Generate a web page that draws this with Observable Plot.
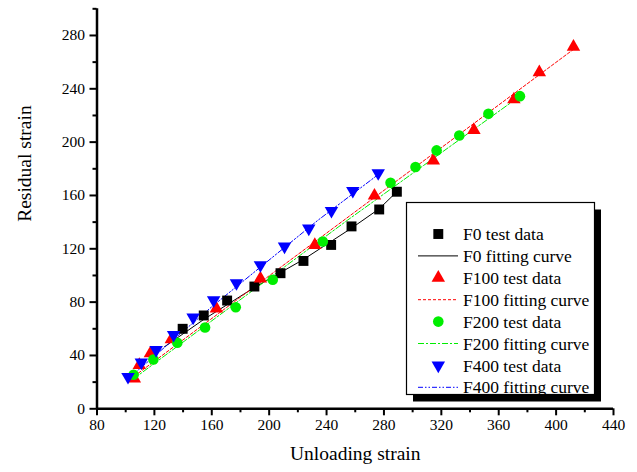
<!DOCTYPE html>
<html>
<head>
<meta charset="utf-8">
<script src="https://cdn.jsdelivr.net/npm/d3@7"></script>
<script src="https://cdn.jsdelivr.net/npm/@observablehq/plot@0.6"></script>
<style>
  html, body { margin: 0; padding: 0; background: #fff; }
  #chart { width: 637px; height: 472px; }
</style>
</head>
<body>
<div id="chart"></div>
<script>
// ---- Test data ----
const f0X = [139.7, 154.4, 170.7, 189.7, 207.9, 223.9, 243.2, 257.4, 276.7, 289.0];
const f0Y = [60.0, 70.0, 81.2, 91.7, 101.7, 110.9, 122.9, 136.8, 149.5, 162.8];

const f100X = [106.0, 109.5, 117.2, 131.8, 163.2, 193.9, 231.8, 273.4, 314.4, 342.7, 370.6, 388.3, 412.1];
const f100Y = [22.7, 32.8, 41.5, 52.1, 75.2, 97.7, 122.8, 159.8, 186.2, 209.0, 232.0, 252.3, 271.5];

const f200X = [105.5, 119.3, 136.0, 155.3, 176.7, 202.5, 237.4, 284.6, 302.0, 316.7, 332.5, 352.8, 374.8];
const f200Y = [25.5, 37.0, 49.5, 61.0, 76.2, 96.8, 125.5, 169.5, 181.3, 193.8, 205.0, 221.3, 234.5];

const f400X = [101.6, 110.9, 121.2, 133.4, 147.0, 161.3, 177.2, 193.9, 210.7, 227.6, 243.4, 258.3, 276.0];
const f400Y = [24.0, 34.8, 44.2, 55.5, 68.5, 81.5, 94.3, 107.8, 121.8, 135.3, 148.5, 163.5, 176.8];

// ---- Fitting curves ----
const fit0X = [127.0, 154.4, 189.7, 223.9, 257.4, 276.7, 289.0];
const fit0Y = [46.5, 67.0, 91.0, 112.0, 135.5, 150.0, 162.8];
const fit100X = [106.0, 412.0];
const fit100Y = [24.5, 269.5];
const fit200X = [105.5, 254.4, 374.8];
const fit200Y = [22.5, 141.3, 234.5];
const fit400X = [101.6, 160.0, 233.5, 277.0];
const fit400Y = [22.5, 76.5, 141.0, 176.5];

// ---- Axes ----
const xTicks = [80, 120, 160, 200, 240, 280, 320, 360, 400, 440];
const xMinor = [100, 140, 180, 220, 260, 300, 340, 380, 420];
const yTicks = [0, 40, 80, 120, 160, 200, 240, 280];
const yMinor = [20, 60, 100, 140, 180, 220, 260, 300];
const xTitle = "Unloading strain";
const yTitle = "Residual strain";

const legendLabels = [
  "F0 test data", "F0 fitting curve",
  "F100 test data", "F100 fitting curve",
  "F200 test data", "F200 fitting curve",
  "F400 test data", "F400 fitting curve"
];

const RED = "#ff0000", GREEN = "#00ee00", BLUE = "#0000ff", BLACK = "#000000";
const pts = (xs, ys) => xs.map((x, i) => ({x, y: ys[i]}));

const serif = "'Liberation Serif', 'Times New Roman', serif";
const R_SQ = 5.6, R_TRI = 5.0, R_CIR = 5.3;

const plot = Plot.plot({
  width: 637,
  height: 472,
  marginLeft: 96.5,
  marginRight: 24,
  marginTop: 8.3,
  marginBottom: 63.7,
  style: {fontFamily: serif, fontSize: "15.5px", background: "white", color: "black"},
  x: {domain: [80, 440]},
  y: {domain: [0, 300]},
  marks: [
    Plot.axisX({ticks: xTicks, tickSize: 7, tickPadding: 3, strokeWidth: 2, label: null, fontSize: 15.5}),
    Plot.axisX({ticks: xMinor, tickSize: 4, strokeWidth: 2, tickFormat: () => "", label: null}),
    Plot.axisY({ticks: yTicks, tickSize: 7, tickPadding: 5, strokeWidth: 2, label: null, fontSize: 15.5}),
    Plot.axisY({ticks: yMinor, tickSize: 4, strokeWidth: 2, tickFormat: () => "", label: null}),
    Plot.ruleX([80], {y1: 0, y2: 300, strokeWidth: 2.5}),
    Plot.ruleY([0], {x1: 80, x2: 440, strokeWidth: 2.5}),
    Plot.text([xTitle], {frameAnchor: "bottom", dy: 51, fontSize: 19.5, fontFamily: serif}),
    Plot.text([yTitle], {frameAnchor: "left", dx: -72, dy: 13, rotate: -90, fontSize: 19.5, fontFamily: serif}),

    Plot.line(pts(fit0X, fit0Y), {x: "x", y: "y", stroke: BLACK, strokeWidth: 1}),
    Plot.line(pts(fit100X, fit100Y), {x: "x", y: "y", stroke: RED, strokeWidth: 1, strokeDasharray: "3,2"}),
    Plot.line(pts(fit200X, fit200Y), {x: "x", y: "y", stroke: GREEN, strokeWidth: 1, strokeDasharray: "6,2,2,2"}),
    Plot.line(pts(fit400X, fit400Y), {x: "x", y: "y", stroke: BLUE, strokeWidth: 1, strokeDasharray: "5,2,1.5,2,1.5,2"}),

    Plot.dot(pts(f0X, f0Y), {x: "x", y: "y", symbol: "square", r: R_SQ, fill: BLACK, stroke: "none"}),
    Plot.dot(pts(f100X, f100Y), {x: "x", y: "y", symbol: "triangle", r: R_TRI, fill: RED, stroke: "none"}),
    Plot.dot(pts(f200X, f200Y), {x: "x", y: "y", symbol: "circle", r: R_CIR, fill: GREEN, stroke: "none"}),
    Plot.dot(pts(f400X, f400Y), {x: "x", y: "y", symbol: "triangle", rotate: 180, r: R_TRI, fill: BLUE, stroke: "none"})
  ]
});

document.getElementById("chart").appendChild(plot);

// ---- Legend box drawn into the same SVG ----
const svg = d3.select(plot);
const lg = svg.append("g").attr("font-family", serif).attr("font-size", 17.5)
  .attr("text-anchor", "start").style("text-anchor", "start");
const bx = 406.5, by = 202.5, bw = 188, bh = 192;
lg.append("rect").attr("x", bx + 6.5).attr("y", by + 7).attr("width", bw).attr("height", bh).attr("fill", "black");
lg.append("rect").attr("x", bx).attr("y", by).attr("width", bw).attr("height", bh)
  .attr("fill", "white").attr("stroke", "black").attr("stroke-width", 1.2);

const legendStyles = [
  {kind: "sym", sym: d3.symbolSquare, size: Math.PI * R_SQ * R_SQ, color: BLACK, rot: 0},
  {kind: "line", color: BLACK, dash: null},
  {kind: "sym", sym: d3.symbolTriangle, size: Math.PI * R_TRI * R_TRI, color: RED, rot: 0},
  {kind: "line", color: RED, dash: "3,2"},
  {kind: "sym", sym: d3.symbolCircle, size: Math.PI * R_CIR * R_CIR, color: GREEN, rot: 0},
  {kind: "line", color: GREEN, dash: "6,2,2,2"},
  {kind: "sym", sym: d3.symbolTriangle, size: Math.PI * R_TRI * R_TRI, color: BLUE, rot: 180},
  {kind: "line", color: BLUE, dash: "5,2,1.5,2,1.5,2"}
];
legendLabels.forEach((label, i) => {
  const cy = 234 + i * 21.9;
  const st = legendStyles[i];
  if (st.kind === "sym") {
    lg.append("path").attr("d", d3.symbol(st.sym, st.size)())
      .attr("transform", `translate(438.3,${cy}) rotate(${st.rot})`)
      .attr("fill", st.color);
  } else {
    const l = lg.append("line").attr("x1", 418).attr("x2", 458).attr("y1", cy).attr("y2", cy)
      .attr("stroke", st.color).attr("stroke-width", 1);
    if (st.dash) l.attr("stroke-dasharray", st.dash);
  }
  lg.append("text").attr("x", 463).attr("y", cy).attr("dy", "0.35em")
    .attr("text-anchor", "start").style("text-anchor", "start")
    .attr("fill", "black").text(label);
});
</script>
</body>
</html>
